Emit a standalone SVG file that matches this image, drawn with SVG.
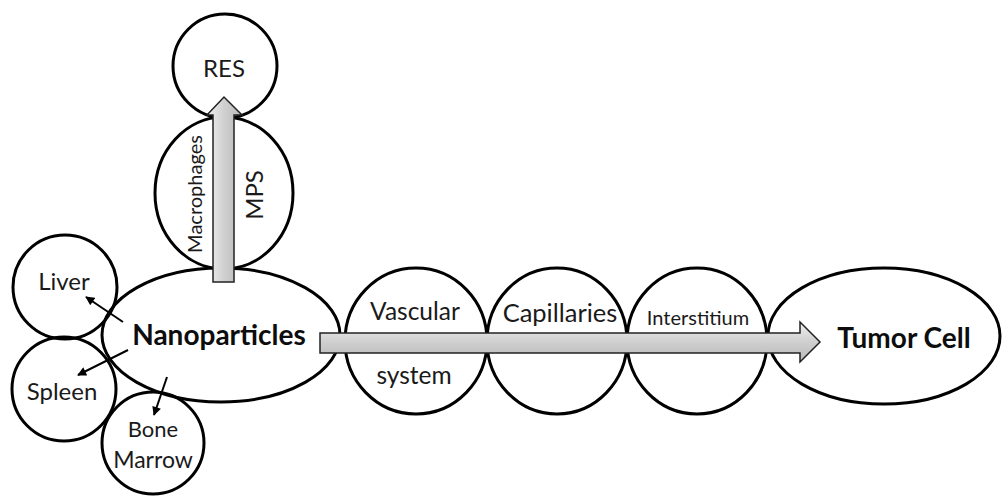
<svg xmlns="http://www.w3.org/2000/svg" width="1002" height="496" viewBox="0 0 1002 496">
<style>
.n{fill:none;stroke:#000;stroke-width:3}
.t{font-family:Lato,"Liberation Sans",sans-serif;fill:#1a1a1a;text-anchor:middle}
.b{font-weight:bold;fill:#0d0d0d}
.ar{fill:url(#g);stroke:#222;stroke-width:1.5}
.sa{stroke:#000;stroke-width:2;fill:none;marker-end:url(#m)}
</style>
<defs>
<linearGradient id="g" x1="0" y1="0" x2="0" y2="1">
<stop offset="0" stop-color="#f0f0f0"/><stop offset="0.5" stop-color="#cfcfcf"/><stop offset="1" stop-color="#b8b8b8"/>
</linearGradient>
<linearGradient id="gv" x1="0" y1="0" x2="1" y2="0">
<stop offset="0" stop-color="#f0f0f0"/><stop offset="0.5" stop-color="#cfcfcf"/><stop offset="1" stop-color="#b8b8b8"/>
</linearGradient>
<marker id="m" viewBox="0 0 10 10" refX="9" refY="5" markerWidth="10" markerHeight="9" orient="auto" markerUnits="userSpaceOnUse">
<path d="M0,0 L10,5 L0,10 z" fill="#000"/>
</marker>
</defs>
<rect width="1002" height="496" fill="#fff"/>
<g id="res"><circle class="n" cx="225" cy="66" r="52"/><text class="t" x="224" y="77" font-size="24">RES</text></g>
<g id="mps"><ellipse class="n" cx="224" cy="193" rx="69" ry="76"/>
<text class="t" font-size="20" transform="translate(202,194) rotate(-90)">Macrophages</text>
<text class="t" font-size="24" transform="translate(263,195) rotate(-90)">MPS</text></g>
<g id="nano"><ellipse class="n" cx="221" cy="335" rx="119" ry="67"/><text class="t b" x="219" y="345" font-size="28">Nanoparticles</text></g>
<g id="liver"><circle class="n" cx="65" cy="287" r="52"/><text class="t" x="64" y="290" font-size="24">Liver</text></g>
<g id="spleen"><circle class="n" cx="64" cy="389" r="52"/><text class="t" x="62" y="400" font-size="24">Spleen</text></g>
<g id="bone"><circle class="n" cx="153" cy="443" r="51"/><text class="t" x="153" y="437" font-size="22">Bone</text><text class="t" x="153" y="468" font-size="23">Marrow</text></g>
<g id="vascular"><ellipse class="n" cx="416" cy="341" rx="71" ry="73"/><text class="t" x="415" y="320" font-size="24.5">Vascular</text><text class="t" x="414" y="384" font-size="24.5">system</text></g>
<g id="capillaries"><ellipse class="n" cx="557" cy="341" rx="70" ry="73"/><text class="t" x="560" y="322" font-size="25.5">Capillaries</text></g>
<g id="interstitium"><ellipse class="n" cx="697" cy="341" rx="70" ry="73"/><text class="t" x="698" y="325" font-size="20">Interstitium</text></g>
<g id="tumor"><ellipse class="n" cx="884" cy="336" rx="116" ry="68"/><text class="t b" x="904" y="348" font-size="28">Tumor Cell</text></g>
<g id="connectors">
<path fill="url(#gv)" stroke="#222" stroke-width="1.5" d="M213,282 L213,115 L207,115 L224,97 L242,115 L234,115 L234,282 Z"/>
<path class="ar" d="M320,333 L800,333 L800,322 L820,342 L800,362 L800,353 L320,353 Z"/>
<line class="sa" x1="123" y1="322" x2="86" y2="297"/>
<line class="sa" x1="128" y1="350" x2="78" y2="375"/>
<line class="sa" x1="167" y1="377" x2="154" y2="415"/>
</g>
</svg>
